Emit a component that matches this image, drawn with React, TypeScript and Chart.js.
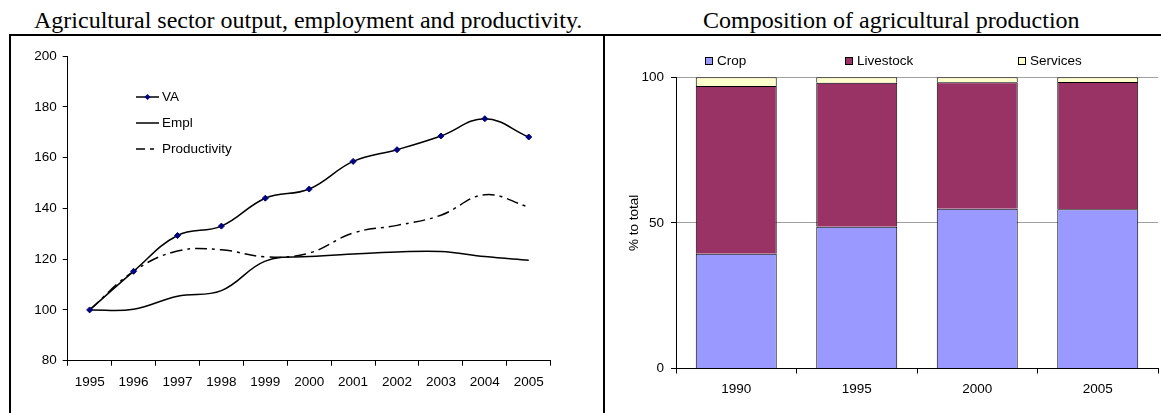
import { useEffect, useRef } from "react";
import { Chart, registerables } from "chart.js";

Chart.register(...registerables);

// ---- Data (left chart) ----
const years = ["1995", "1996", "1997", "1998", "1999", "2000", "2001", "2002", "2003", "2004", "2005"];
const vaValues = [100, 115.2, 129.3, 133, 144, 147.6, 158.5, 163.1, 168.5, 175.3, 168.1];
const emplValues = [100, 100.3, 105.4, 107.6, 119.2, 121, 122, 122.8, 123, 121, 119.6];
const productivityValues = [100, 115.2, 123.2, 123.7, 120.9, 122.4, 130.3, 133.3, 137.3, 145.4, 140.5];

// ---- Data (right chart) ----
const barYears = ["1990", "1995", "2000", "2005"];
const cropShare = [39.4, 48.7, 54.9, 54.7];
const livestockShare = [57.6, 49.4, 43.4, 43.7];
const servicesShare = [3.0, 1.9, 1.7, 1.6];

const SANS = "'Liberation Sans', Arial, sans-serif";
const SERIF = "'Liberation Serif', 'Times New Roman', serif";
const TICK_FONT = { family: SANS, size: 13.5 };

const lineLegend = {
  id: "lineLegend",
  afterDraw(chart: any) {
    const ctx = chart.ctx as CanvasRenderingContext2D;
    const x0 = 124;
    const x1 = 147;
    const tx = 150;
    const rows = [61, 87, 113];
    chart.data.datasets.forEach((ds: any, i: number) => {
      const y = rows[i];
      ctx.save();
      ctx.strokeStyle = ds.borderColor;
      ctx.lineWidth = ds.borderWidth;
      ctx.setLineDash(ds.legendDash || []);
      ctx.beginPath();
      ctx.moveTo(x0, y);
      ctx.lineTo(x1, y);
      ctx.stroke();
      ctx.setLineDash([]);
      if (ds.pointRadius > 0) {
        const cx = (x0 + x1) / 2;
        const r = ds.pointRadius;
        ctx.fillStyle = ds.pointBackgroundColor;
        ctx.beginPath();
        ctx.moveTo(cx, y - r);
        ctx.lineTo(cx + r, y);
        ctx.lineTo(cx, y + r);
        ctx.lineTo(cx - r, y);
        ctx.closePath();
        ctx.fill();
      }
      ctx.fillStyle = "#000";
      ctx.font = `13.5px ${SANS}`;
      ctx.textBaseline = "middle";
      ctx.textAlign = "left";
      ctx.fillText(ds.label, tx, y);
      ctx.restore();
    });
  },
};

const barLegend = {
  id: "barLegend",
  afterDraw(chart: any) {
    const ctx = chart.ctx as CanvasRenderingContext2D;
    const xs = [99, 239, 412];
    const y = 25;
    const box = 8;
    chart.data.datasets.forEach((ds: any, i: number) => {
      const x = xs[i];
      ctx.save();
      ctx.fillStyle = ds.backgroundColor;
      ctx.fillRect(x, y - box / 2, box, box);
      ctx.strokeStyle = "#000";
      ctx.lineWidth = 1;
      ctx.strokeRect(x + 0.5, y - box / 2 + 0.5, box - 1, box - 1);
      ctx.fillStyle = "#000";
      ctx.font = `13.5px ${SANS}`;
      ctx.textBaseline = "middle";
      ctx.textAlign = "left";
      ctx.fillText(ds.label, x + box + 4, y);
      ctx.restore();
    });
  },
};

export default function App() {
  const leftRef = useRef<HTMLCanvasElement>(null);
  const rightRef = useRef<HTMLCanvasElement>(null);

  useEffect(() => {
    const left = new Chart(leftRef.current!, {
      type: "line",
      data: {
        labels: years,
        datasets: [
          {
            label: "VA",
            data: vaValues,
            borderColor: "#000",
            borderWidth: 1.5,
            tension: 0.4,
            pointStyle: "rectRot",
            pointRadius: 3,
            pointBackgroundColor: "#000080",
            pointBorderColor: "#000080",
            pointBorderWidth: 1,
          } as any,
          {
            label: "Empl",
            data: emplValues,
            borderColor: "#000",
            borderWidth: 1.5,
            tension: 0.4,
            pointRadius: 0,
          } as any,
          {
            label: "Productivity",
            data: productivityValues,
            borderColor: "#000",
            borderWidth: 1.5,
            borderDash: [12, 5, 3, 5],
            legendDash: [9, 5, 4, 10],
            tension: 0.4,
            pointRadius: 0,
          } as any,
        ],
      },
      options: {
        animation: false,
        responsive: false,
        layout: { padding: { top: 20, right: 51.3, left: 0, bottom: 0 } },
        plugins: { legend: { display: false }, tooltip: { enabled: false } },
        scales: {
          x: {
            offset: true,
            grid: {
              offset: true,
              display: true,
              drawOnChartArea: false,
              drawTicks: true,
              tickLength: 5,
              color: "#000",
              lineWidth: 1,
            },
            border: { display: true, color: "#000", width: 1 },
            ticks: { font: TICK_FONT, color: "#000", padding: 8, maxRotation: 0, autoSkip: false },
            afterFit: (s: any) => {
              s.height = 52.3;
            },
          },
          y: {
            min: 80,
            max: 200,
            ticks: { stepSize: 20, font: TICK_FONT, color: "#000", padding: 6 },
            grid: { drawOnChartArea: false, tickLength: 5, color: "#000" },
            border: { display: true, color: "#000", width: 1 },
            afterFit: (s: any) => {
              s.width = 55.7;
            },
          },
        },
      } as any,
      plugins: [lineLegend],
    });

    const right = new Chart(rightRef.current!, {
      type: "bar",
      data: {
        labels: barYears,
        datasets: [
          { label: "Crop", data: cropShare, backgroundColor: "#9999FF", borderColor: "#000", borderWidth: 1 },
          { label: "Livestock", data: livestockShare, backgroundColor: "#993366", borderColor: "#000", borderWidth: 1 },
          { label: "Services", data: servicesShare, backgroundColor: "#FFFFCC", borderColor: "#000", borderWidth: 1 },
        ],
      },
      options: {
        animation: false,
        responsive: false,
        datasets: { bar: { categoryPercentage: 0.672, barPercentage: 1 } },
        layout: { padding: { top: 41.3, right: 3, left: 0, bottom: 0 } },
        plugins: { legend: { display: false }, tooltip: { enabled: false } },
        scales: {
          x: {
            stacked: true,
            grid: { offset: true, drawOnChartArea: false, tickLength: 5, color: "#000" },
            border: { display: true, color: "#000", width: 1 },
            ticks: { font: TICK_FONT, color: "#000", padding: 7.5, maxRotation: 0 },
            afterFit: (s: any) => {
              s.height = 44.5;
            },
          },
          y: {
            stacked: true,
            min: 0,
            max: 100,
            ticks: { stepSize: 50, font: TICK_FONT, color: "#000", padding: 7 },
            grid: {
              color: (c: any) => (c.tick && c.tick.value === 0 ? "#000" : "#a0a0a0"),
              tickColor: "#000",
              tickLength: 5,
            },
            border: { display: true, color: "#000", width: 1 },
            title: {
              display: true,
              text: "% to total",
              font: TICK_FONT,
              color: "#000",
              padding: { top: 20, bottom: 0 },
            },
            afterFit: (s: any) => {
              s.width = 70;
            },
          },
        },
      } as any,
      plugins: [barLegend],
    });

    return () => {
      left.destroy();
      right.destroy();
    };
  }, []);

  const titleStyle: any = {
    position: "absolute",
    top: 8,
    font: `24px ${SERIF}`,
    lineHeight: "24px",
    whiteSpace: "nowrap",
    color: "#000",
  };

  return (
    <div
      style={{
        position: "absolute",
        left: 0,
        top: 0,
        width: 1161,
        height: 413,
        overflow: "hidden",
        background: "#fff",
      }}
    >
      <div style={{ ...titleStyle, left: 34 }}>Agricultural sector output, employment and productivity.</div>
      <div style={{ ...titleStyle, left: 703 }}>Composition of agricultural production</div>
      <div style={{ position: "absolute", left: 9, top: 34, width: 1152, height: 2, background: "#000" }} />
      <div style={{ position: "absolute", left: 9, top: 34, width: 2, height: 379, background: "#000" }} />
      <div style={{ position: "absolute", left: 603, top: 34, width: 2, height: 379, background: "#000" }} />
      <canvas
        ref={leftRef}
        width={590}
        height={377}
        style={{ position: "absolute", left: 12, top: 36, width: 590, height: 377 }}
      />
      <canvas
        ref={rightRef}
        width={555}
        height={377}
        style={{ position: "absolute", left: 606, top: 36, width: 555, height: 377 }}
      />
    </div>
  );
}
